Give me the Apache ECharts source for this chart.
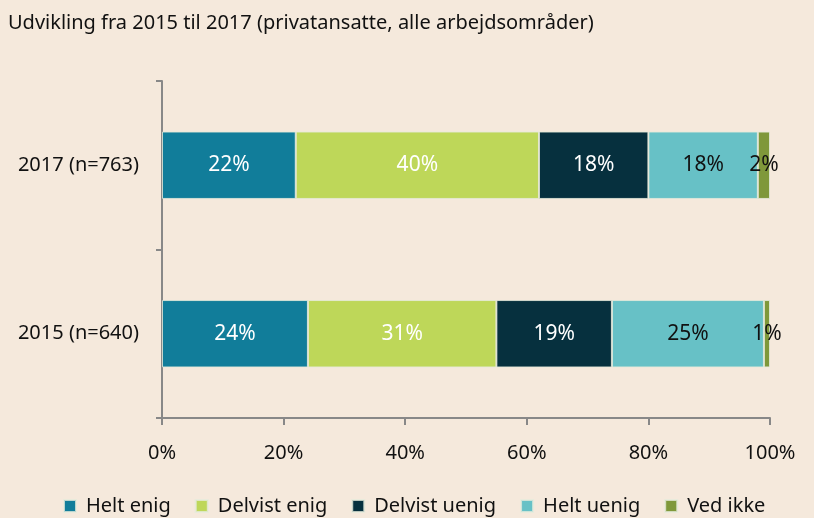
<!DOCTYPE html>
<html>
<head>
<meta charset="utf-8">
<script src="https://cdn.jsdelivr.net/npm/echarts@6/dist/echarts.min.js"></script>
<style>
html,body{margin:0;padding:0;background:#f5e9dc;}
#chart{width:814px;height:518px;}
</style>
</head>
<body>
<div id="chart"></div>
<script>
const titleText = 'Udvikling fra 2015 til 2017 (privatansatte, alle arbejdsområder)';
const categories = ['2017 (n=763)', '2015 (n=640)'];
const seriesNames = ['Helt enig', 'Delvist enig', 'Delvist uenig', 'Helt uenig', 'Ved ikke'];
const heltEnig = [22, 24];
const delvistEnig = [40, 31];
const delvistUenig = [18, 19];
const heltUenig = [18, 25];
const vedIkke = [2, 1];
const xTicks = [0, 20, 40, 60, 80, 100];

const values = [heltEnig, delvistEnig, delvistUenig, heltUenig, vedIkke];
const colors = ['#117d9a', '#bed759', '#06303e', '#67c1c6', '#7f983a'];
const labelColors = ['#ffffff', '#ffffff', '#ffffff', '#111111', '#111111'];
const FONT = '"Noto Sans", sans-serif';

const chart = echarts.init(document.getElementById('chart'), null, {renderer: 'canvas'});
chart.setOption({
  backgroundColor: '#f5e9dc',
  animation: false,
  textStyle: {fontFamily: FONT},
  title: {
    text: titleText, left: 3, top: 8,
    textStyle: {fontSize: 20, fontWeight: 'normal', color: '#111', fontFamily: FONT}
  },
  legend: {
    data: seriesNames, left: 58, top: 491,
    itemWidth: 12, itemHeight: 12, itemGap: 24,
    icon: 'rect',
    textStyle: {fontSize: 20, color: '#111', fontFamily: FONT, padding: [0, 0, 0, 5]}
  },
  grid: {left: 162, right: 44, top: 81, bottom: 100},
  xAxis: {
    type: 'value', min: xTicks[0], max: xTicks[xTicks.length - 1], interval: 20,
    axisLine: {show: true, lineStyle: {color: '#888', width: 2}},
    axisTick: {show: true, length: 7, lineStyle: {color: '#888', width: 2}},
    splitLine: {show: false},
    axisLabel: {formatter: '{value}%', fontSize: 20, color: '#111', margin: 25, fontFamily: FONT}
  },
  yAxis: {
    type: 'category', data: categories, inverse: true,
    axisLine: {show: true, lineStyle: {color: '#888', width: 2}},
    axisTick: {show: true, length: 6, lineStyle: {color: '#888', width: 2}},
    axisLabel: {fontSize: 20, color: '#111', margin: 23, fontFamily: FONT}
  },
  series: seriesNames.map((name, i) => ({
    name: name, type: 'bar', stack: 'total', barWidth: '40%',
    data: values[i],
    itemStyle: {color: colors[i], borderColor: 'rgba(230,235,220,0.8)', borderWidth: 1},
    label: {
      show: true, position: 'inside', formatter: '{c}%',
      fontSize: 21, color: labelColors[i], fontFamily: FONT
    }
  }))
});
</script>
</body>
</html>
